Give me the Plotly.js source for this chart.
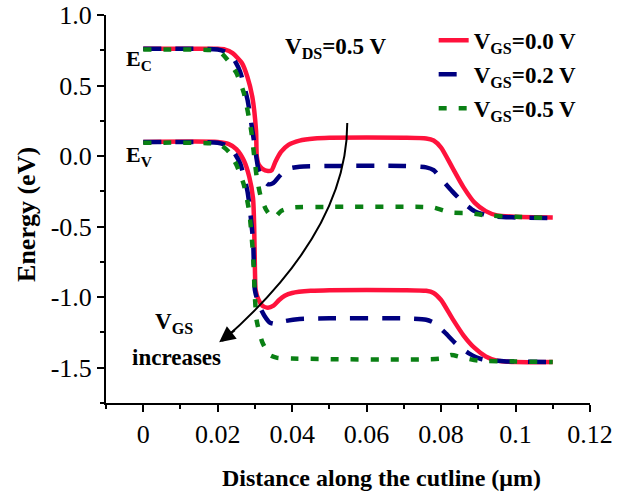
<!DOCTYPE html>
<html>
<head>
<meta charset="utf-8">
<script src="https://cdn.plot.ly/plotly-3.0.1.min.js"></script>
<style>html,body{margin:0;padding:0;background:#fff;}#chart{width:640px;height:492px;}</style>
</head>
<body>
<div id="chart"></div>
<script>
// Distance along the cutline (um) and band energies (eV)
const x00Ec = [0,0.02,0.022,0.024,0.0265,0.028,0.0293,0.0303,0.0305,0.031,0.032,0.0335,0.0345,0.0355,0.037,0.039,0.042,0.046,0.05,0.07,0.076,0.078,0.08,0.083,0.086,0.089,0.092,0.095,0.1,0.11];
const y00Ec = [0.76,0.76,0.755,0.73,0.66,0.56,0.42,0.18,0.0,-0.06,-0.09,-0.105,-0.1,-0.04,0.03,0.08,0.11,0.125,0.13,0.13,0.125,0.11,0.06,-0.08,-0.22,-0.33,-0.39,-0.42,-0.43,-0.435];
const x00Ev = [0,0.02,0.023,0.025,0.027,0.0285,0.0295,0.0298,0.03,0.0302,0.031,0.032,0.0335,0.035,0.0365,0.038,0.04,0.045,0.05,0.07,0.076,0.078,0.08,0.083,0.086,0.089,0.092,0.095,0.1,0.11];
const y00Ev = [0.1,0.1,0.085,0.05,-0.03,-0.15,-0.3,-0.5,-0.8,-0.95,-1.02,-1.06,-1.075,-1.06,-1.02,-0.99,-0.97,-0.955,-0.95,-0.95,-0.955,-0.97,-1.02,-1.15,-1.27,-1.36,-1.42,-1.45,-1.46,-1.46];

const x02Ec = [0,0.02,0.022,0.024,0.026,0.028,0.0295,0.031,0.032,0.0335,0.035,0.037,0.039,0.042,0.05,0.07,0.076,0.078,0.08,0.083,0.086,0.089,0.093,0.1,0.11];
const y02Ec = [0.76,0.755,0.74,0.7,0.6,0.4,0.15,-0.1,-0.16,-0.2,-0.19,-0.13,-0.09,-0.075,-0.07,-0.07,-0.08,-0.1,-0.16,-0.25,-0.33,-0.39,-0.425,-0.435,-0.44];
const x02Ev = [0,0.02,0.022,0.024,0.026,0.028,0.0295,0.03,0.031,0.0325,0.034,0.0357,0.038,0.042,0.05,0.07,0.076,0.078,0.081,0.084,0.0876,0.091,0.0975,0.11];
const y02Ev = [0.1,0.095,0.08,0.04,-0.05,-0.25,-0.6,-0.95,-1.05,-1.13,-1.18,-1.19,-1.17,-1.155,-1.15,-1.15,-1.16,-1.18,-1.25,-1.33,-1.4,-1.44,-1.455,-1.46];

const x05Ec = [0,0.019,0.021,0.023,0.025,0.027,0.029,0.0298,0.0305,0.0315,0.033,0.0345,0.0355,0.037,0.04,0.05,0.075,0.078,0.0827,0.088,0.092,0.1,0.11];
const y05Ec = [0.755,0.75,0.73,0.67,0.59,0.45,0.18,0.0,-0.15,-0.28,-0.38,-0.43,-0.43,-0.39,-0.365,-0.36,-0.36,-0.365,-0.4,-0.405,-0.42,-0.43,-0.44];
const x05Ev = [0,0.019,0.021,0.023,0.025,0.027,0.0285,0.0295,0.03,0.0305,0.032,0.034,0.036,0.04,0.08,0.0827,0.086,0.09,0.1,0.11];
const y05Ev = [0.095,0.09,0.075,0.03,-0.06,-0.2,-0.4,-0.7,-1.0,-1.17,-1.32,-1.41,-1.43,-1.435,-1.435,-1.41,-1.43,-1.45,-1.455,-1.46];

const seriesNames = ['V<sub>GS</sub>=0.0 V','V<sub>GS</sub>=0.2 V','V<sub>GS</sub>=0.5 V'];
const xTickVals = [0,0.02,0.04,0.06,0.08,0.1,0.12];
const xTickText = ['0','0.02','0.04','0.06','0.08','0.1','0.12'];
const yTickVals = [1.0,0.5,0.0,-0.5,-1.0,-1.5];
const yTickText = ['1.0','0.5','0.0','-0.5','-1.0','-1.5'];

const RED = 'rgb(255,18,60)', BLUE = 'rgb(0,0,128)', GREEN = 'rgb(10,128,20)';
const styles = [
  {color: RED, width: 4.5, dash: 'solid'},
  {color: BLUE, width: 4.5, dash: '18px,14px'},
  {color: GREEN, width: 4.5, dash: '8px,12px'}
];
const sets = [[x00Ec,y00Ec,x00Ev,y00Ev],[x02Ec,y02Ec,x02Ev,y02Ev],[x05Ec,y05Ec,x05Ev,y05Ev]];
const traces = [];
sets.forEach((s,i)=>{
  traces.push({x:s[0], y:s[1], type:'scatter', mode:'lines', name:seriesNames[i], legendgroup:'g'+i, line:Object.assign({shape:'spline', smoothing:0.6}, styles[i])});
  traces.push({x:s[2], y:s[3], type:'scatter', mode:'lines', name:seriesNames[i], legendgroup:'g'+i, showlegend:false, line:Object.assign({shape:'spline', smoothing:0.6}, styles[i])});
});

const FONT = 'Liberation Serif, Times New Roman, serif';
const axBase = {showgrid:false, zeroline:false, showline:true, linecolor:'#000', linewidth:2, tickcolor:'#000', tickwidth:2};
const layout = {
  width:640, height:492,
  margin:{l:106, r:50, t:15, b:89},
  paper_bgcolor:'#fff', plot_bgcolor:'#fff',
  font:{family:FONT, color:'#000'},
  showlegend:true,
  legend:{x:0.677, y:0.99, xanchor:'left', yanchor:'top', bgcolor:'rgba(0,0,0,0)', font:{family:FONT, size:23, color:'#000', weight:'bold'}, traceorder:'grouped', tracegroupgap:1},
  xaxis:Object.assign({}, axBase, {range:[-0.01,0.12], tickmode:'array', tickvals:xTickVals, ticktext:xTickText, ticks:'outside', ticklen:7, tickfont:{family:FONT, size:26}, minor:{dtick:0.01, tick0:0, ticks:'outside', ticklen:4, tickwidth:2, tickcolor:'#000'}}),
  yaxis:Object.assign({}, axBase, {range:[-1.75,1.0], tickmode:'array', tickvals:yTickVals, ticktext:yTickText, ticks:'outside', ticklen:7, tickfont:{family:FONT, size:26}, minor:{dtick:0.25, tick0:0, ticks:'outside', ticklen:4, tickwidth:2, tickcolor:'#000'}}),
  xaxis2:Object.assign({}, axBase, {overlaying:'x', side:'top', anchor:'y', range:[-0.01,0.12], tickmode:'array', tickvals:xTickVals, ticks:'inside', ticklen:7, showticklabels:false, minor:{dtick:0.01, tick0:0, ticks:'inside', ticklen:4, tickwidth:2, tickcolor:'#000'}}),
  yaxis2:Object.assign({}, axBase, {overlaying:'y', side:'right', anchor:'x', range:[-1.75,1.0], tickmode:'array', tickvals:yTickVals, ticks:'inside', ticklen:7, showticklabels:false, minor:{dtick:0.25, tick0:0, ticks:'inside', ticklen:4, tickwidth:2, tickcolor:'#000'}}),
  shapes:[{type:'path', xref:'x', yref:'y', path:'M 0.0548,0.234 Q 0.0548,-0.536 0.0212,-1.31', line:{color:'#000', width:2}}],
  annotations:[
    {xref:'x', yref:'y', x:0.0204, y:-1.32, ax:0.0250, ay:-1.225, axref:'x', ayref:'y', text:'', showarrow:true, arrowhead:2, arrowsize:1.6, arrowwidth:2, arrowcolor:'#000'},
    {xref:'paper', yref:'paper', x:0.570, y:-0.193, xanchor:'center', yanchor:'middle', showarrow:false, text:'Distance along the cutline (μm)', font:{family:FONT, size:24, weight:'bold'}},
    {xref:'paper', yref:'paper', x:-0.163, y:0.485, xanchor:'center', yanchor:'middle', textangle:-90, showarrow:false, text:'Energy (eV)', font:{family:FONT, size:26, weight:'bold'}},
    {xref:'paper', yref:'paper', x:(124-106)/484, y:(403-60)/388, xanchor:'left', yanchor:'middle', showarrow:false, text:'E<sub>C</sub>', font:{family:FONT, size:22, weight:'bold'}},
    {xref:'paper', yref:'paper', x:(124-106)/484, y:(403-156)/388, xanchor:'left', yanchor:'middle', showarrow:false, text:'E<sub>V</sub>', font:{family:FONT, size:22, weight:'bold'}},
    {xref:'paper', yref:'paper', x:(283-106)/484, y:(403-48)/388, xanchor:'left', yanchor:'middle', showarrow:false, text:'V<sub>DS</sub>=0.5 V', font:{family:FONT, size:23, weight:'bold'}},
    {xref:'paper', yref:'paper', x:(174-106)/484, y:(403-323)/388, xanchor:'center', yanchor:'middle', showarrow:false, text:'V<sub>GS</sub>', font:{family:FONT, size:23, weight:'bold'}},
    {xref:'paper', yref:'paper', x:(176-106)/484, y:(403-357)/388, xanchor:'center', yanchor:'middle', showarrow:false, text:'increases', font:{family:FONT, size:23, weight:'bold'}}
  ]
};
Plotly.newPlot('chart', traces, layout, {displayModeBar:false, staticPlot:true});
</script>
</body>
</html>
